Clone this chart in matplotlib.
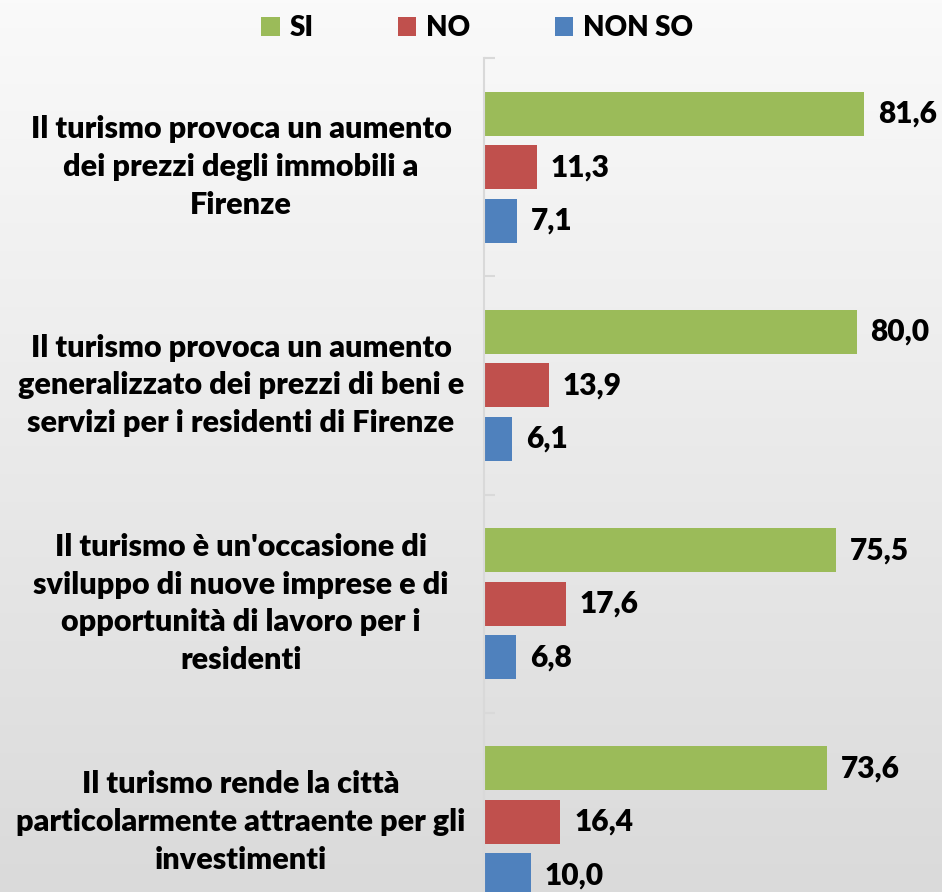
import numpy as np
import matplotlib
matplotlib.use("Agg")
import matplotlib.pyplot as plt
from matplotlib.patches import Patch
import matplotlib.transforms as mtransforms
from matplotlib.colors import LinearSegmentedColormap

plt.rcParams['font.family'] = ['Lato', 'DejaVu Sans']

categories = [
    "Il turismo provoca un aumento\ndei prezzi degli immobili a\nFirenze",
    "Il turismo provoca un aumento\ngeneralizzato dei prezzi di beni e\nservizi per i residenti di Firenze",
    "Il turismo è un'occasione di\nsviluppo di nuove imprese e di\nopportunità di lavoro per i\nresidenti",
    "Il turismo rende la città\nparticolarmente attraente per gli\ninvestimenti",
]
series_names = ["SI", "NO", "NON SO"]
si = [81.6, 80.0, 75.5, 73.6]
no = [11.3, 13.9, 17.6, 16.4]
nonso = [7.1, 6.1, 6.8, 10.0]
colors = ["#9BBB59", "#C0504D", "#4F81BD"]

W, H = 942, 892
fig = plt.figure(figsize=(W / 100, H / 100), dpi=100)

# background gradient
bg = fig.add_axes([0, 0, 1, 1], zorder=-10)
grad = np.linspace(0, 1, 256).reshape(-1, 1)
cmap = LinearSegmentedColormap.from_list("bg", ["#fafafa", "#dadada"])
bg.imshow(grad, aspect="auto", cmap=cmap, extent=[0, 1, 0, 1], origin="upper")
bg.set_axis_off()

ax_left = 484 / W
ax_top = 1 - 58 / H
ax_bottom = 1 - 931 / H
ax_width = (484 + 4.657 * 100) / W - ax_left
ax = fig.add_axes([ax_left, ax_bottom, ax_width, ax_top - ax_bottom])
ax.patch.set_alpha(0)

n = len(categories)
ypos = np.arange(n)
offsets = [-0.245, 0.0, 0.245]
height = 0.202
fs = 21.5
fw = "heavy"
for vals, off, col in zip([si, no, nonso], offsets, colors):
    bars = ax.barh(ypos + off, vals, height=height, color=col, edgecolor="none")
    for b, v in zip(bars, vals):
        ax.text(b.get_width() + 3.0, b.get_y() + b.get_height() / 2,
                f"{v:.1f}".replace(".", ","), va="center", ha="left",
                fontsize=fs, fontweight=fw, color="black")

ax.set_xlim(0, 100)
ax.set_ylim(n - 0.5, -0.5)
for s in ["top", "right", "bottom"]:
    ax.spines[s].set_visible(False)
ax.spines["left"].set_color("#d9d9d9")
ax.spines["left"].set_linewidth(1.5)
ax.set_xticks([])
ax.set_yticks(np.arange(n + 1) - 0.5)
ax.set_yticklabels([])
ax.tick_params(axis="y", direction="in", length=8, color="#d9d9d9", width=1.5)

# category labels centered left of axis
trans = mtransforms.blended_transform_factory(fig.transFigure, ax.transData)
for i, c in enumerate(categories):
    ax.text(241 / W, i, c, transform=trans, ha="center", va="center",
            fontsize=22, fontweight=fw, linespacing=1.42, color="black")

handles = [Patch(facecolor=c, edgecolor="none") for c in colors]
fig.legend(handles, series_names, loc="center", bbox_to_anchor=(0.5 + 6 / W, 1 - 28 / H),
           ncol=3, frameon=False, prop={"size": 20, "weight": fw},
           handlelength=0.65, handleheight=0.65, handletextpad=0.35,
           columnspacing=3.05)

fig.savefig("out.png", dpi=100)
